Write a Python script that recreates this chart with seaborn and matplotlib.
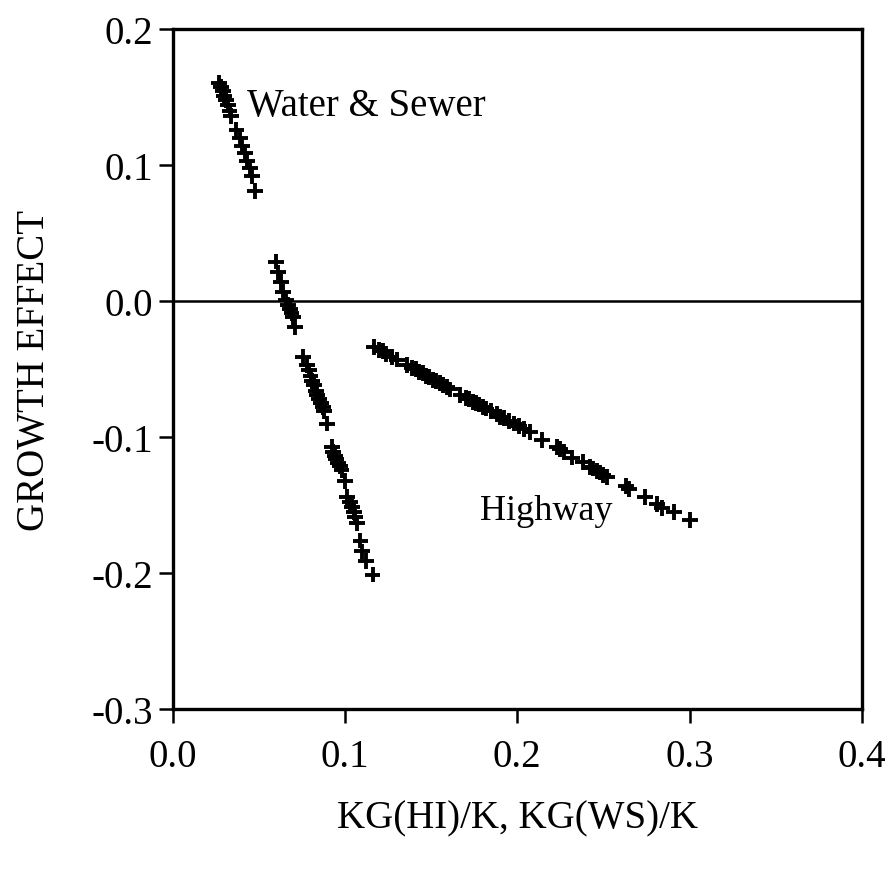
import numpy as np
import pandas as pd
import matplotlib
matplotlib.use("Agg")
import matplotlib.pyplot as plt
import seaborn as sns

# Water & Sewer series: KG(WS)/K vs growth effect
ws_x = [0.027, 0.028, 0.029, 0.030, 0.031, 0.032, 0.033, 0.034,
        0.037, 0.039, 0.040, 0.042, 0.043, 0.045, 0.046, 0.048,
        0.060, 0.061, 0.063, 0.064, 0.066, 0.067, 0.068, 0.069, 0.070, 0.071,
        0.0756, 0.078, 0.079, 0.080, 0.081, 0.082, 0.083, 0.084, 0.085, 0.086, 0.087, 0.088,
        0.0895, 0.0924, 0.093, 0.094, 0.095, 0.096, 0.097, 0.098,
        0.100, 0.101, 0.103, 0.104, 0.105, 0.106, 0.107,
        0.109, 0.110, 0.112, 0.116]
ws_y = [0.160, 0.157, 0.154, 0.151, 0.148, 0.144, 0.140, 0.136,
        0.126, 0.120, 0.114, 0.109, 0.103, 0.098, 0.092, 0.081,
        0.029, 0.021, 0.014, 0.007, 0.001, -0.003, -0.006, -0.009, -0.012, -0.019,
        -0.041, -0.047, -0.051, -0.055, -0.059, -0.062, -0.066, -0.069, -0.072, -0.075, -0.078, -0.081,
        -0.090, -0.107, -0.111, -0.114, -0.116, -0.119, -0.121, -0.124,
        -0.132, -0.144, -0.148, -0.151, -0.155, -0.159, -0.163,
        -0.176, -0.184, -0.191, -0.201]

# Highway series: KG(HI)/K vs growth effect
hi_x = [0.117, 0.120, 0.122, 0.124, 0.127, 0.130, 0.136, 0.139, 0.141,
        0.143, 0.145, 0.147, 0.149, 0.151, 0.153, 0.155, 0.157, 0.159, 0.161,
        0.167, 0.170, 0.172, 0.174, 0.176, 0.178, 0.180, 0.182, 0.185,
        0.188, 0.190, 0.192, 0.195, 0.198, 0.201, 0.204,
        0.2076, 0.2145, 0.223, 0.225, 0.227, 0.232, 0.238, 0.242, 0.244,
        0.246, 0.248, 0.250, 0.252, 0.263, 0.265, 0.274, 0.281, 0.284,
        0.291, 0.300]
hi_y = [-0.034, -0.036, -0.037, -0.039, -0.041, -0.043, -0.047, -0.049, -0.050,
        -0.052, -0.053, -0.055, -0.056, -0.058, -0.059, -0.060, -0.062, -0.063, -0.065,
        -0.069, -0.071, -0.072, -0.074, -0.075, -0.076, -0.078, -0.079, -0.081,
        -0.083, -0.085, -0.086, -0.088, -0.090, -0.092, -0.094,
        -0.096, -0.102, -0.107, -0.109, -0.111, -0.115, -0.118, -0.122, -0.123,
        -0.125, -0.126, -0.128, -0.129, -0.136, -0.138, -0.144, -0.149, -0.152,
        -0.155, -0.161]

x_ticks = [0.0, 0.1, 0.2, 0.3, 0.4]
y_ticks = [-0.3, -0.2, -0.1, 0.0, 0.1, 0.2]
x_label = "KG(HI)/K, KG(WS)/K"
y_label = "GROWTH EFFECT"

df = pd.DataFrame({
    "x": ws_x + hi_x,
    "y": ws_y + hi_y,
    "series": ["Water & Sewer"] * len(ws_x) + ["Highway"] * len(hi_x),
})

sns.set_theme(style="white")
plt.rcParams["font.family"] = ["Liberation Serif", "DejaVu Serif"]

fig = plt.figure(figsize=(8.9, 8.78), dpi=100)
ax = fig.add_axes([0.194, 0.191, 0.7745, 0.775])

sns.scatterplot(data=df, x="x", y="y", hue="series",
                palette={"Water & Sewer": "black", "Highway": "black"},
                marker="+", s=130, linewidth=2.8, legend=False, ax=ax)

ax.axhline(0.0, color="black", lw=1.8, zorder=0)

ax.set_xlim(0.0, 0.4)
ax.set_ylim(-0.3, 0.2)
ax.set_xticks(x_ticks)
ax.set_yticks(y_ticks)
ax.set_xticklabels([f"{v:.1f}" for v in x_ticks])
ax.set_yticklabels([f"{v:.1f}" for v in y_ticks])
ax.tick_params(axis="both", which="major", bottom=True, left=True,
               direction="out", length=10, width=1.8,
               labelsize=28, colors="black", pad=4)
ax.tick_params(axis="x", pad=11)
for sp in ax.spines.values():
    sp.set_color("black")
    sp.set_linewidth(2.4)

ax.set_xlabel(x_label, fontsize=28, color="black", labelpad=17)
ax.set_ylabel(y_label, fontsize=28, color="black", labelpad=28)

ax.text(0.043, 0.144, "Water & Sewer", fontsize=28, ha="left", va="center", color="black")
ax.text(0.1785, -0.154, "Highway", fontsize=26, ha="left", va="center", color="black")

fig.savefig("out.png", dpi=100, facecolor="white")
